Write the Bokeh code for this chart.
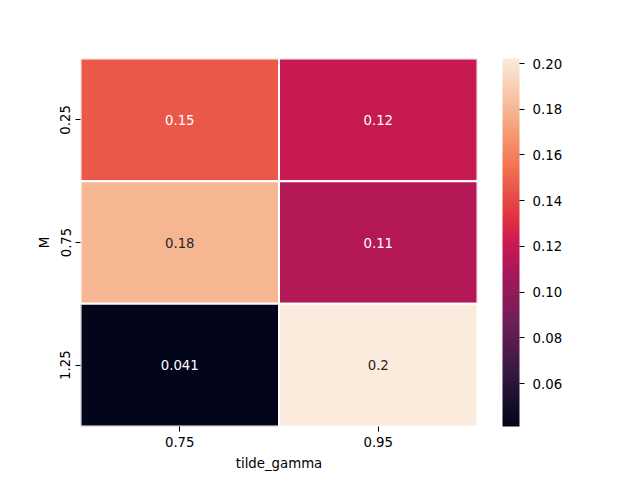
import numpy as np
from bokeh.plotting import figure
from bokeh.models import (ColumnDataSource, LinearColorMapper, ColorBar, FixedTicker,
                          Range1d, PrintfTickFormatter)
from bokeh.embed import file_html
from bokeh.resources import INLINE

# ---- data ----
x_labels = ["0.75", "0.95"]          # tilde_gamma
y_labels = ["0.25", "0.75", "1.25"]  # M
values = [[0.146, 0.120],
          [0.180, 0.113],
          [0.0412, 0.2022]]
cbar_ticks = [0.06, 0.08, 0.10, 0.12, 0.14, 0.16, 0.18, 0.20]

# ---- rocket colormap (anchor colors) ----
anchors_pos = [0.0, 1/7, 2/7, 3/7, 0.5, 4/7, 5/7, 6/7, 1.0]
anchors_hex = ["#03051a", "#35193e", "#701f57", "#ad1759", "#cb1b4f",
               "#e13342", "#f37651", "#f6b48f", "#faebdd"]

def h2rgb(h):
    return [int(h[i:i + 2], 16) for i in (1, 3, 5)]

arr = np.array([h2rgb(h) for h in anchors_hex], dtype=float)
ts = np.linspace(0, 1, 256)
pal_rgb = np.stack([np.interp(ts, anchors_pos, arr[:, k]) for k in range(3)], axis=1)
palette = ["#%02x%02x%02x" % tuple(int(round(c)) for c in row) for row in pal_rgb]

flat = [v for row in values for v in row]
vmin, vmax = min(flat), max(flat)
mapper = LinearColorMapper(palette=palette, low=vmin, high=vmax)

def lum(rgb):
    out = []
    for c in rgb:
        c = c / 255.0
        out.append(c / 12.92 if c <= 0.03928 else ((c + 0.055) / 1.055) ** 2.4)
    return 0.2126 * out[0] + 0.7152 * out[1] + 0.0722 * out[2]

xs, ys, vs, txt, tcol = [], [], [], [], []
for i, row in enumerate(values):
    for j, v in enumerate(row):
        xs.append(j + 0.5)
        ys.append(i + 0.5)
        vs.append(v)
        txt.append(format(v, ".2g"))
        idx = int(np.clip((v - vmin) / (vmax - vmin) * 255, 0, 255))
        tcol.append("white" if lum(pal_rgb[idx]) < 0.408 else "#262626")

src = ColumnDataSource(dict(x=xs, y=ys, v=vs, t=txt, tc=tcol))

p = figure(frame_width=397, frame_height=368, output_backend="svg", toolbar_location=None,
           x_range=Range1d(0, len(x_labels)), y_range=Range1d(len(y_labels), 0),
           min_border_left=80, min_border_top=58, min_border_bottom=54, min_border_right=163)
p.outline_line_color = None
p.grid.visible = False
p.background_fill_color = "white"

p.rect(x="x", y="y", width=1, height=1, source=src,
       fill_color={"field": "v", "transform": mapper}, line_color="white", line_width=2)
p.text(x="x", y="y", text="t", source=src, text_color="tc", text_align="center",
       text_baseline="middle", text_font_size="13.3px", text_font={"value": "DejaVu Sans"})

FONT = "DejaVu Sans"
for ax in (p.xaxis[0], p.yaxis[0]):
    ax.axis_line_color = None
    ax.major_tick_in = 0
    ax.major_tick_out = 5
    ax.minor_tick_line_color = None
    ax.major_tick_line_color = "black"
    ax.major_label_text_font = FONT
    ax.major_label_text_font_size = "13.3px"
    ax.major_label_text_color = "black"
    ax.axis_label_text_font = FONT
    ax.axis_label_text_font_size = "13.3px"
    ax.axis_label_text_font_style = "normal"
    ax.axis_label_text_color = "black"
    ax.major_label_standoff = 5
    ax.axis_label_standoff = 6

p.xaxis.ticker = FixedTicker(ticks=[j + 0.5 for j in range(len(x_labels))])
p.xaxis.major_label_overrides = {j + 0.5: l for j, l in enumerate(x_labels)}
p.yaxis.ticker = FixedTicker(ticks=[i + 0.5 for i in range(len(y_labels))])
p.yaxis.major_label_overrides = {i + 0.5: l for i, l in enumerate(y_labels)}
p.yaxis.major_label_orientation = "vertical"
p.xaxis.axis_label = "tilde_gamma"
p.yaxis.axis_label = "M"

cb = ColorBar(color_mapper=mapper, width=17, height=368, location=(25, 0),
              ticker=FixedTicker(ticks=cbar_ticks), padding=0,
              major_tick_in=0, major_tick_out=5, major_tick_line_color="black",
              minor_tick_line_color=None, bar_line_color=None,
              major_label_text_font=FONT, major_label_text_font_size="13.3px",
              major_label_text_color="black", label_standoff=8,
              formatter=PrintfTickFormatter(format="%.2f"),
              background_fill_color=None, border_line_color=None)
p.add_layout(cb, "right")

open("out.html", "w").write(file_html(p, INLINE))
